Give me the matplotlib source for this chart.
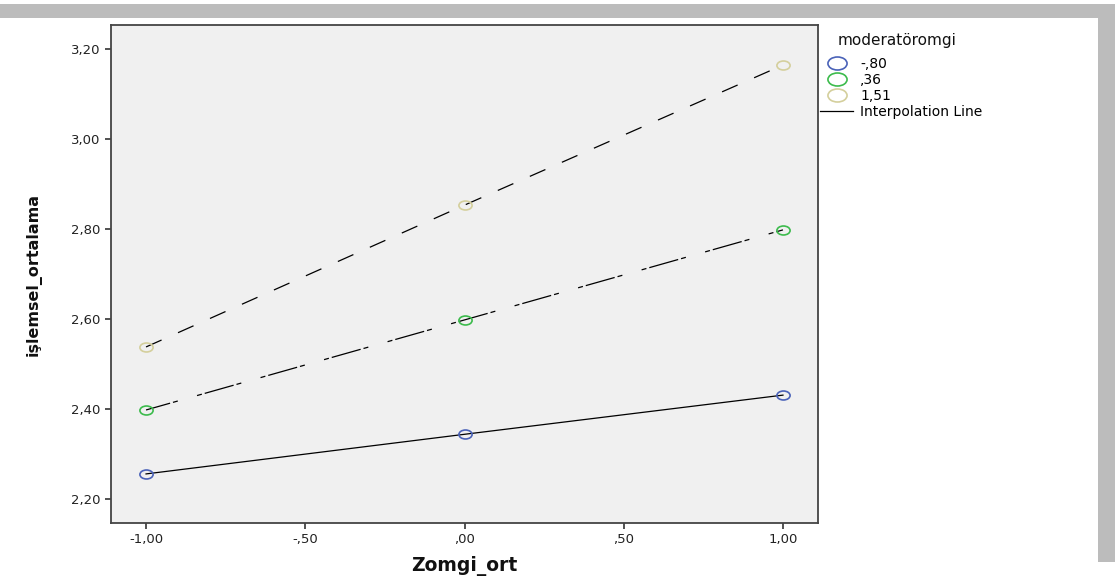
import matplotlib
matplotlib.use("Agg")
import matplotlib.pyplot as plt
from matplotlib.path import Path
from matplotlib.lines import Line2D
from matplotlib.patches import Rectangle

# ---- data ----
x_vals = [-1.0, 0.0, 1.0]
series_labels = ["-,80", ",36", "1,51"]
legend_title = "moderatöromgi"
y_low = [2.256, 2.344, 2.431]
y_mid = [2.398, 2.598, 2.798]
y_high = [2.538, 2.853, 3.164]
x_ticks = [-1.0, -0.5, 0.0, 0.5, 1.0]
x_tick_labels = ["-1,00", "-,50", ",00", ",50", "1,00"]
y_ticks = [2.2, 2.4, 2.6, 2.8, 3.0, 3.2]
y_tick_labels = ["2,20", "2,40", "2,60", "2,80", "3,00", "3,20"]

colors = ["#4a62b8", "#3cbb4c", "#d4cf9c"]
styles = ["-", (4, (24, 2.4, 4, 16, 4, 2.4)), (0, (13.6, 14.4))]

circ = Path.unit_circle()
ell = Path(circ.vertices * [1.0, 0.68], circ.codes)

W, H = 1115, 580
fig = plt.figure(figsize=(W / 100, H / 100), dpi=100)
fig.patch.set_facecolor("white")

# gray frame bands
fig.patches.append(Rectangle((0, 1 - 18 / H), 1, 14 / H, transform=fig.transFigure,
                             facecolor="#bcbcbc", edgecolor="none", zorder=0))
fig.patches.append(Rectangle((1098 / W, 1 - 562 / H), 17 / W, 544 / H, transform=fig.transFigure,
                             facecolor="#bcbcbc", edgecolor="none", zorder=0))

ax = fig.add_axes([111 / W, 1 - 523 / H, (818 - 111) / W, (523 - 25) / H])
ax.set_facecolor("#f0f0f0")

for ys, c, ls in zip([y_low, y_mid, y_high], colors, styles):
    ax.plot(x_vals, ys, color="black", lw=0.9, linestyle=ls, zorder=2)
    ax.plot(x_vals, ys, linestyle="none", marker=ell, markersize=9.5,
            markerfacecolor="none", markeredgecolor=c, markeredgewidth=1.2, zorder=3)

ax.set_xlim(-1.11, 1.11)
ax.set_ylim(2.147, 3.253)
ax.set_xticks(x_ticks)
ax.set_xticklabels(x_tick_labels)
ax.set_yticks(y_ticks)
ax.set_yticklabels(y_tick_labels)
ax.tick_params(direction="out", length=4.5, width=1.2, color="#333333",
               labelsize=9.5, labelcolor="#222222", pad=3)
for s in ax.spines.values():
    s.set_color("#444444")
    s.set_linewidth(1.3)

ax.set_xlabel("Zomgi_ort", fontsize=13.5, fontweight="bold", labelpad=7, color="#111111")
ax.set_ylabel("işlemsel_ortalama", fontsize=11.5, fontweight="bold", color="#111111")
ax.yaxis.set_label_coords(-0.098, 0.5)

fig.text(838 / W, 1 - 40 / H, legend_title, fontsize=11, va="center", ha="left", color="#111111")

handles = [Line2D([], [], linestyle="none", marker=ell, markersize=9.5,
                  markerfacecolor="none", markeredgecolor=c, markeredgewidth=1.2)
           for c in colors]
handles.append(Line2D([], [], color="black", lw=0.9))
labels = series_labels + ["Interpolation Line"]
leg = fig.legend(handles, labels, loc="upper left", bbox_to_anchor=(820 / W, 1 - 57 / H),
                 frameon=False, fontsize=10,
                 handlelength=2.4, handletextpad=0.5, labelspacing=0.15, markerscale=1.45,
                 borderpad=0.0, borderaxespad=0)

fig.savefig("out.png", dpi=100)
